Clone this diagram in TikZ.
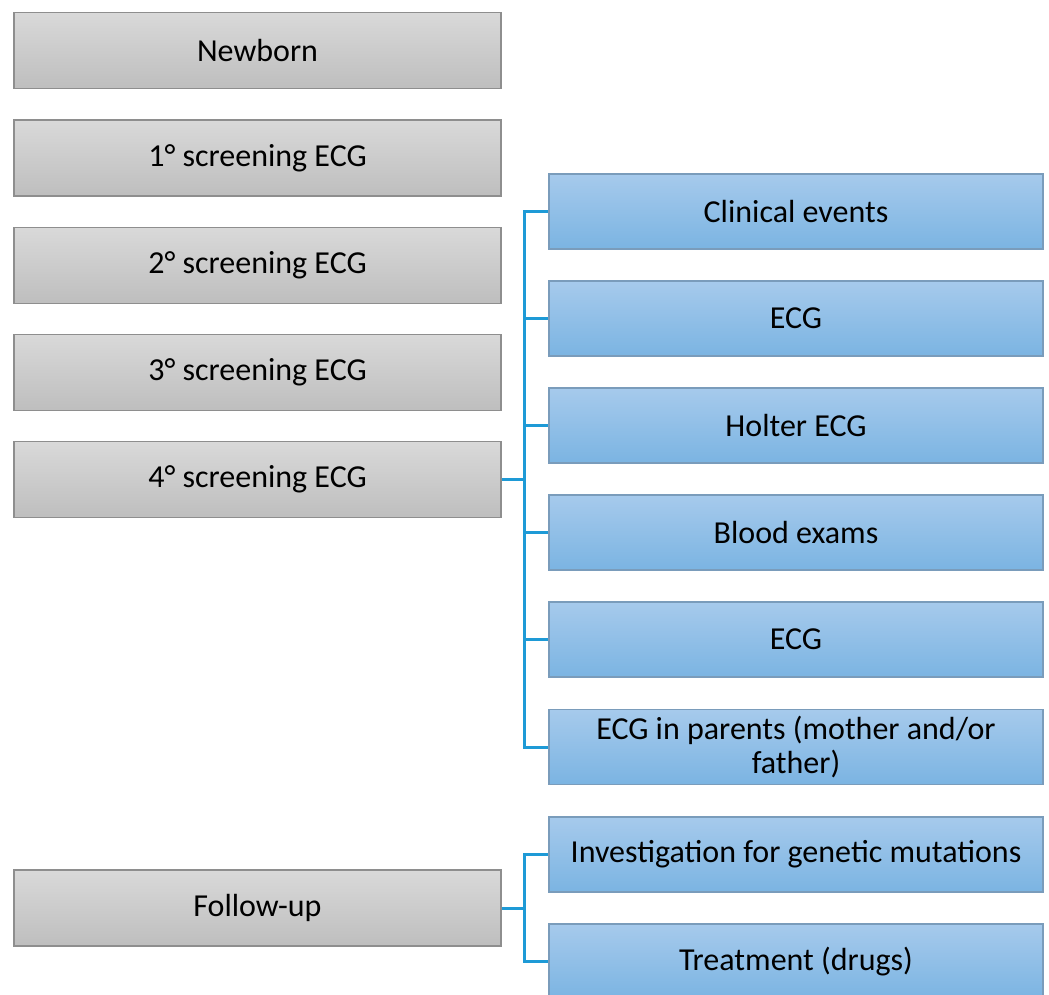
\documentclass[tikz,border=0pt]{standalone}
\usepackage{fontspec}
\setmainfont{Carlito}
\definecolor{graytop}{HTML}{D9D9D9}
\definecolor{graybot}{HTML}{BEBEBE}
\definecolor{grayline}{HTML}{8E8E8E}
\definecolor{bluetop}{HTML}{A6CAEC}
\definecolor{bluebot}{HTML}{7BB4E2}
\definecolor{blueline}{HTML}{7A9CBB}
\definecolor{connc}{HTML}{1E9AD6}
\tikzset{
  graybox/.style={draw=grayline, line width=1.2pt, top color=graytop, bottom color=graybot,
    minimum width=487pt, minimum height=76pt, inner sep=0pt, align=center,
    font=\fontsize{32}{34}\selectfont},
  bluebox/.style={draw=blueline, line width=1.2pt, top color=bluetop, bottom color=bluebot,
    minimum width=494pt, minimum height=75pt, inner sep=0pt, align=center,
    font=\fontsize{32}{34}\selectfont},
  conn/.style={draw=connc, line width=3pt}
}
\begin{document}
\begin{tikzpicture}[x=1pt,y=-1pt]
\useasboundingbox (0,0) rectangle (1049,994);
\fill[white] (0,0) rectangle (1049,994);
% left column
\node[graybox] (nb) at (257.5,50.5) {Newborn};
\node[graybox] (s1) at (257.5,158) {1° screening ECG};
\node[graybox] (s2) at (257.5,265.5) {2° screening ECG};
\node[graybox] (s3) at (257.5,372.5) {3° screening ECG};
\node[graybox] (s4) at (257.5,479.5) {4° screening ECG};
\node[graybox] (fu) at (257.5,908) {Follow-up};
% right column
\node[bluebox] (b1) at (796,211.5) {Clinical events};
\node[bluebox] (b2) at (796,318.5) {ECG};
\node[bluebox] (b3) at (796,425.5) {Holter ECG};
\node[bluebox] (b4) at (796,532.5) {Blood exams};
\node[bluebox] (b5) at (796,639.5) {ECG};
\node[bluebox] (b6) at (796,747) {ECG in parents (mother and/or\\father)};
\node[bluebox] (b7) at (796,854.5) {Investigation for genetic mutations};
\node[bluebox] (b8) at (796,961.5) {Treatment (drugs)};
% connectors
\coordinate (j1) at (524,479.5);
\coordinate (j2) at (524,908);
\draw[conn] (s4.east) -- (j1);
\foreach \b in {b1,b2,b3,b4,b5,b6}{\draw[conn] (j1) |- (\b.west);}
\draw[conn] (fu.east) -- (j2);
\foreach \b in {b7,b8}{\draw[conn] (j2) |- (\b.west);}
\end{tikzpicture}
\end{document}
